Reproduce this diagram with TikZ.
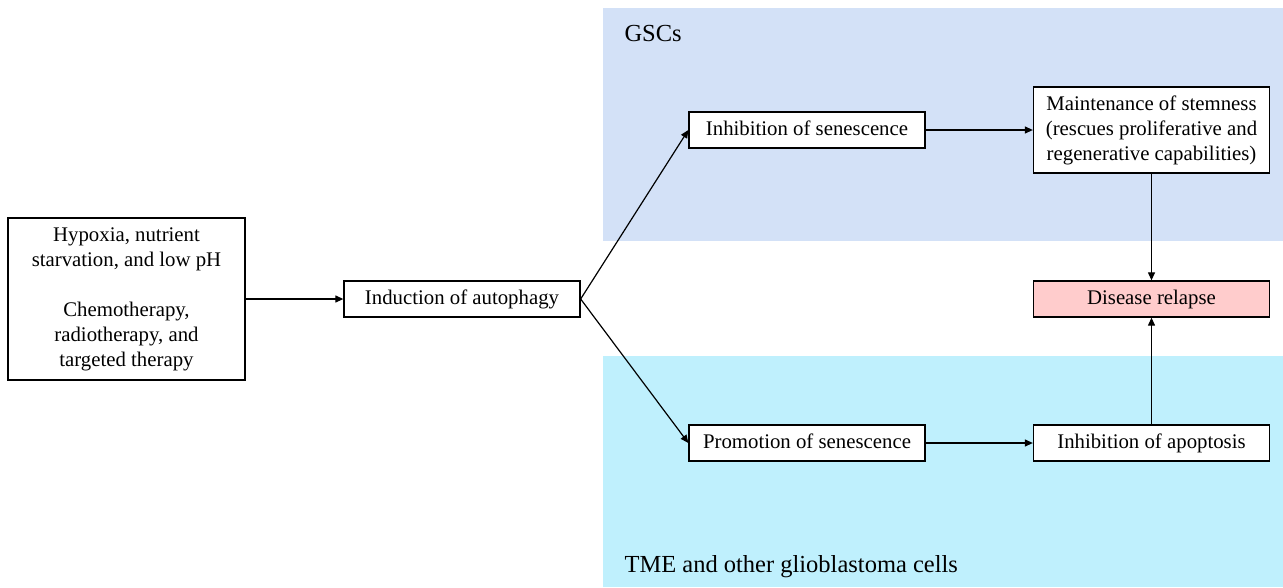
\documentclass[tikz,border=0pt]{standalone}
\usepackage{fontspec}
\setmainfont{Liberation Serif}
\usetikzlibrary{arrows.meta}
\definecolor{gscblue}{HTML}{D3E1F7}
\definecolor{tmeblue}{HTML}{BFF0FD}
\definecolor{relapse}{HTML}{FFCCCC}
\begin{document}
\begin{tikzpicture}[x=1pt,y=-1pt,
  box/.style={draw=black,line width=1.3pt,fill=white,minimum width=236pt,minimum height=36pt,inner sep=0pt,align=center,font=\fontsize{20.8}{25}\selectfont},
  conn/.style={line width=1.2pt,-{Triangle[length=8pt,width=7pt]}},
  region/.style={font=\fontsize{24.5}{28}\selectfont,anchor=base west}]
\useasboundingbox (0,0) rectangle (1283,587);
\fill[gscblue] (603,8) rectangle (1283,241);
\fill[tmeblue] (603,356) rectangle (1283,587);
\node[region] (gsc) at (621,41) {GSCs};
\node[region] (tme) at (621,572) {TME and other glioblastoma cells};
\node[box,minimum width=237pt,minimum height=162pt] (src) at (126.5,299) {Hypoxia, nutrient\\starvation, and low pH\\[25pt]Chemotherapy,\\radiotherapy, and\\targeted therapy};
\node[box] (aut) at (462,299) {\strut Induction of autophagy};
\node[box] (inh) at (807,130) {\strut Inhibition of senescence};
\node[box,minimum height=86pt] (mai) at (1151.5,130) {Maintenance of stemness\\(rescues proliferative and\\regenerative capabilities)};
\node[box,fill=relapse] (dis) at (1151.5,299) {\strut Disease relapse};
\node[box] (pro) at (807,443) {\strut Promotion of senescence};
\node[box] (apo) at (1151.5,443) {\strut Inhibition of apoptosis};
\draw[conn] (src.east) -- (aut.west);
\draw[conn] (aut.east) -- (inh.west);
\draw[conn] (aut.east) -- (pro.west);
\draw[conn] (inh.east) -- (mai.west);
\draw[conn] (pro.east) -- (apo.west);
\draw[conn] (mai.south) -- (dis.north);
\draw[conn] (apo.north) -- (dis.south);
\end{tikzpicture}
\end{document}
